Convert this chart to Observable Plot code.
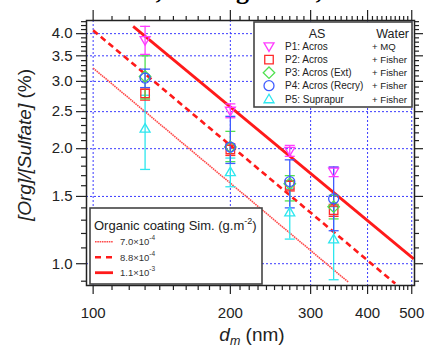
<!DOCTYPE html>
<html><head><meta charset="utf-8">
<script src="https://cdn.jsdelivr.net/npm/d3@7"></script>
<script src="https://cdn.jsdelivr.net/npm/@observablehq/plot@0.6"></script>
<style>
body{margin:0;background:#fff;width:430px;height:348px;overflow:hidden;position:relative;font-family:"Liberation Sans",Arial,sans-serif}
#chart{position:absolute;left:0;top:0}
#top{position:absolute;left:-4px;top:-24px;font-family:"Liberation Serif",serif;font-weight:bold;font-size:26px;line-height:30px;white-space:nowrap;color:#000}
</style></head><body>
<div id="chart"></div>
<div id="top"><i>m</i> in this work, ref. Figures 4, 5 and 6</div>
<script>
// ---- data ----
const diameters = [130, 200, 270, 337];            // d_m (nm)
const seriesNames = ["P1: Acros", "P2: Acros", "P3: Acros (Ext)", "P4: Acros (Recry)", "P5: Suprapur"];
const waterNames = ["+ MQ", "+ Fisher", "+ Fisher", "+ Fisher", "+ Fisher"];
const seriesColors = ["#ff3cff", "#ff2a2a", "#4fe04f", "#3f5cff", "#2de6ee"];

const p1Val = [3.84, 2.51, 1.97, 1.74];
const p1Lo  = [3.53, 2.41, 1.91, 1.69];
const p1Hi  = [4.18, 2.62, 2.04, 1.79];
const p2Val = [2.79, 1.99, 1.60, 1.38];
const p2Lo  = [2.68, 1.92, 1.55, 1.33];
const p2Hi  = [2.86, 2.06, 1.65, 1.43];
const p3Val = [3.09, 2.02, 1.62, 1.41];
const p3Lo  = [2.70, 1.85, 1.46, 1.31];
const p3Hi  = [3.50, 2.22, 1.70, 1.51];
const p4Val = [3.06, 2.02, 1.64, 1.48];
const p4Lo  = [2.89, 1.83, 1.40, 1.22];
const p4Hi  = [3.23, 2.43, 1.87, 1.79];
const p5Val = [2.26, 1.74, 1.365, 1.16];
const p5Lo  = [1.765, 1.59, 1.16, 0.908];
const p5Hi  = [2.76, 1.89, 1.57, 1.41];

// simulated organic coating lines (endpoints)
const coatLabels = ["7.0×10", "8.8×10", "1.1×10"];
const coatExp = ["-4", "-4", "-3"];
const coatX0 = [100, 100, 122.4];
const coatY0 = [3.25, 4.08, 4.18];
const coatX1 = [363, 460, 505];
const coatY1 = [0.895, 0.887, 1.03];

// tick values
const xMajor = [100, 200, 300, 400, 500];
const yMajor = [1.0, 1.5, 2.0, 2.5, 3.0, 3.5, 4.0];
const xMinor = [];
for (let h = 100; h < 500; h += 100) for (let k = 1; k < 10; k++) xMinor.push(h + k * 10);
const yMinor = [0.9];
for (let t = 11; t <= 43; t++) if (t % 5 !== 0) yMinor.push(t / 10);

// ---- symbols ----
const R = s => Math.sqrt(s / Math.PI);
const symTriDown = {draw(c, s) {const r = R(s); c.moveTo(-r, -0.75 * r); c.lineTo(r, -0.75 * r); c.lineTo(0, 0.95 * r); c.closePath();}};
const symTriUp = {draw(c, s) {const r = R(s); c.moveTo(-r, 0.75 * r); c.lineTo(r, 0.75 * r); c.lineTo(0, -0.95 * r); c.closePath();}};
const symSquare = {draw(c, s) {const r = R(s) * 0.85; c.rect(-r, -r, 2 * r, 2 * r);}};
const symDiamond = {draw(c, s) {const r = R(s) * 1.15; c.moveTo(0, -r); c.lineTo(r, 0); c.lineTo(0, r); c.lineTo(-r, 0); c.closePath();}};
const symCircle = {draw(c, s) {const r = R(s); c.moveTo(r, 0); c.arc(0, 0, r, 0, 2 * Math.PI);}};
const symCap = {draw(c, s) {const r = R(s); c.moveTo(-r, 0); c.lineTo(r, 0);}};
const seriesSymbols = [symTriDown, symSquare, symDiamond, symCircle, symTriUp];

const vals = [p1Val, p2Val, p3Val, p4Val, p5Val];
const los = [p1Lo, p2Lo, p3Lo, p4Lo, p5Lo];
const his = [p1Hi, p2Hi, p3Hi, p4Hi, p5Hi];
const rowsOf = i => diameters.map((d, j) => ({d, v: vals[i][j], lo: los[i][j], hi: his[i][j]}));

const lineRows = i => [{x: coatX0[i], y: coatY0[i]}, {x: coatX1[i], y: coatY1[i]}];
const lineStyles = [
  {stroke: "#ff4a4a", strokeWidth: 1.6, strokeDasharray: "1.6,0.7", strokeLinecap: "butt"},
  {stroke: "#ff1a1a", strokeWidth: 2.6, strokeDasharray: "6,4", strokeLinecap: "butt"},
  {stroke: "#ff1a1a", strokeWidth: 2.8, strokeLinecap: "butt"}
];

const axisStyle = {stroke: "#222", strokeWidth: 1.2, label: null};
const marks = [
  Plot.gridX(xMajor, {stroke: "#3a3aff", strokeOpacity: 1, strokeWidth: 1, strokeDasharray: "2,2"}),
  Plot.gridY(yMajor, {stroke: "#3a3aff", strokeOpacity: 1, strokeWidth: 1, strokeDasharray: "2,2"}),
];
[0, 1, 2].forEach(i => marks.push(Plot.line(lineRows(i), {x: "x", y: "y", ...lineStyles[i]})));

const order = [4, 1, 0, 2, 3];
order.forEach(i => {
  const rows = rowsOf(i), col = seriesColors[i];
  marks.push(Plot.ruleX(rows, {x: "d", y1: "lo", y2: "hi", stroke: col, strokeWidth: 1.3}));
  marks.push(Plot.dot(rows, {x: "d", y: "lo", symbol: symCap, r: 5, stroke: col, strokeWidth: 1.3}));
  marks.push(Plot.dot(rows, {x: "d", y: "hi", symbol: symCap, r: 5, stroke: col, strokeWidth: 1.3}));
});
order.forEach(i => {
  marks.push(Plot.dot(rowsOf(i), {x: "d", y: "v", symbol: seriesSymbols[i], r: 5, fill: "none", stroke: seriesColors[i], strokeWidth: 1.3}));
});

marks.push(
  Plot.axisX(xMajor, {anchor: "bottom", tickSize: 9, tickPadding: 13, fontSize: 15, tickFormat: d => String(d), ...axisStyle}),
  Plot.axisX(xMinor, {anchor: "bottom", tickSize: 5, tickFormat: () => "", ...axisStyle}),
  Plot.axisX(xMajor, {anchor: "top", tickSize: 11, tickFormat: () => "", ...axisStyle}),
  Plot.axisX(xMinor, {anchor: "top", tickSize: 5, tickFormat: () => "", ...axisStyle}),
  Plot.axisY(yMajor, {anchor: "left", tickSize: 10, tickPadding: 4, fontSize: 15, tickFormat: d3.format(".1f"), ...axisStyle}),
  Plot.axisY(yMinor, {anchor: "left", tickSize: 5, tickFormat: () => "", ...axisStyle}),
  Plot.axisY(yMajor, {anchor: "right", tickSize: 8, tickFormat: () => "", ...axisStyle}),
  Plot.axisY(yMinor, {anchor: "right", tickSize: 4, tickFormat: () => "", ...axisStyle}),
  Plot.frame({stroke: "#222", strokeWidth: 1.5})
);

const chart = Plot.plot({
  width: 430, height: 348,
  marginLeft: 86, marginRight: 16, marginTop: 20, marginBottom: 63,
  x: {type: "log", domain: [96.7, 507], label: null},
  y: {type: "log", domain: [0.877, 4.33], label: null},
  style: {fontFamily: "'Liberation Sans', Arial, sans-serif", background: "white", color: "#222", overflow: "visible"},
  marks
});
document.getElementById("chart").appendChild(chart);

// ---- axis titles & legends ----
const svg = d3.select(chart);
const FONT = "'Liberation Sans', Arial, sans-serif";

const yl = svg.append("text").attr("transform", "translate(26,145) rotate(-90)")
  .attr("text-anchor", "middle").attr("dominant-baseline", "middle")
  .attr("font-family", FONT).attr("font-size", 19).attr("fill", "#222");
yl.append("tspan").attr("font-style", "italic").text("[Org]/[Sulfate]");
yl.append("tspan").text(" (%)");

const xl = svg.append("text").attr("x", 252).attr("y", 341).attr("text-anchor", "middle")
  .attr("font-family", FONT).attr("font-size", 19).attr("fill", "#222");
xl.append("tspan").attr("font-style", "italic").text("d");
xl.append("tspan").attr("font-style", "italic").attr("font-size", 12.5).attr("dy", 4).text("m");
xl.append("tspan").attr("dy", -4).text(" (nm)");

// legend 1: samples
const lg1 = svg.append("g").attr("font-family", FONT).attr("fill", "#222").attr("text-anchor", "start");
lg1.append("rect").attr("x", 254).attr("y", 22).attr("width", 158).attr("height", 85)
  .attr("fill", "white").attr("stroke", "#444").attr("stroke-width", 1.6);
lg1.append("text").attr("x", 317).attr("y", 37.5).attr("text-anchor", "middle").attr("font-size", 12.5).text("AS");
lg1.append("text").attr("x", 409).attr("y", 37.5).attr("text-anchor", "end").attr("font-size", 12.5).text("Water");
const rowY = [46.7, 59.7, 72.7, 85.7, 99];
seriesNames.forEach((name, i) => {
  lg1.append("path").attr("d", d3.symbol(seriesSymbols[i], Math.PI * 25)())
    .attr("transform", `translate(269,${rowY[i]})`).attr("fill", "none")
    .attr("stroke", seriesColors[i]).attr("stroke-width", 1.3);
  lg1.append("text").attr("x", 285).attr("y", rowY[i] + 3.6).attr("font-size", 10).text(name);
  lg1.append("text").attr("x", 372).attr("y", rowY[i] + 3.6).attr("font-size", 9.6).text(waterNames[i]);
});

// legend 2: simulation lines
const lg2 = svg.append("g").attr("font-family", FONT).attr("fill", "#222").attr("text-anchor", "start");
lg2.append("rect").attr("x", 90).attr("y", 208).attr("width", 172).attr("height", 76)
  .attr("fill", "white").attr("stroke", "#444").attr("stroke-width", 1.6);
const t2 = lg2.append("text").attr("x", 94).attr("y", 229.5).attr("font-size", 13);
t2.append("tspan").text("Organic coating Sim. (g.m");
t2.append("tspan").attr("font-size", 9).attr("dy", -6).text("-2");
t2.append("tspan").attr("dy", 6).text(")");
const lgY = [241.7, 257.3, 272.7];
coatLabels.forEach((lab, i) => {
  const st = lineStyles[i];
  lg2.append("line").attr("x1", 95).attr("x2", 113).attr("y1", lgY[i]).attr("y2", lgY[i])
    .attr("stroke", st.stroke).attr("stroke-width", st.strokeWidth)
    .attr("stroke-dasharray", i === 1 ? "6,5" : (st.strokeDasharray || null));
  const tt = lg2.append("text").attr("x", 120).attr("y", lgY[i] + 3.3).attr("font-size", 9.5).attr("fill", "#333");
  tt.append("tspan").text(lab);
  tt.append("tspan").attr("font-size", 6.5).attr("dy", -5).text(coatExp[i]);
});
</script></body></html>
